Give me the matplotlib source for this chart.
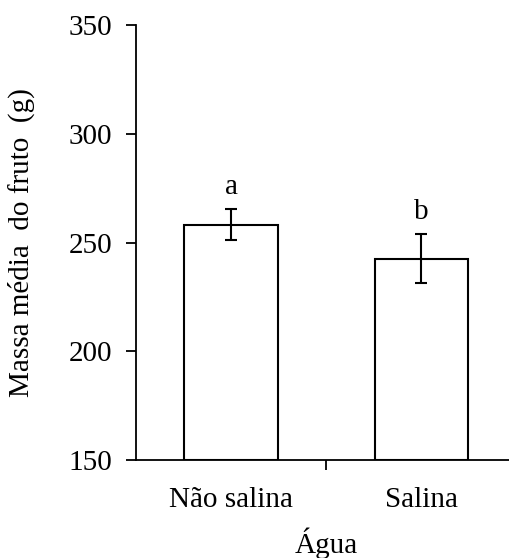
import matplotlib
matplotlib.use('Agg')
import matplotlib.pyplot as plt

# data
categorias = ['Não salina', 'Salina']
massa = [258.2, 242.5]
erro = [7.2, 11.3]
letras = ['a', 'b']

plt.rcParams['font.family'] = ['Liberation Serif', 'DejaVu Serif']
fs = 21

fig = plt.figure(figsize=(5.09, 5.58), dpi=100)
ax = fig.add_axes([0.267, 0.1756, 0.733, 0.7796])

x = range(len(categorias))
ax.bar(x, [m - 150 for m in massa], bottom=150, width=0.49,
       color='white', edgecolor='black', linewidth=1.5,
       yerr=erro, capsize=4.5,
       error_kw=dict(elinewidth=1.5, capthick=1.5, ecolor='black'))

for i in x:
    ax.text(i, massa[i] + erro[i] + 7, letras[i], ha='center', va='baseline', fontsize=fs)

ax.set_ylim(150, 350)
ax.set_yticks([150, 200, 250, 300, 350])
ax.set_xlim(-0.5, 1.46)

# category separator tick
ax.set_xticks([0.5])
ax.set_xticklabels([''])
for i in x:
    ax.text(i, -0.092, categorias[i], transform=ax.get_xaxis_transform(),
            ha='center', va='center', fontsize=fs)
ax.text(0.5, -0.192, 'Água', transform=ax.get_xaxis_transform(),
        ha='center', va='center', fontsize=fs)

ax.spines['top'].set_visible(False)
ax.spines['right'].set_visible(False)
ax.spines['left'].set_linewidth(1.3)
ax.spines['bottom'].set_linewidth(1.3)
ax.tick_params(axis='both', direction='out', length=7, width=1.3, labelsize=fs)
ax.tick_params(axis='y', pad=10)

ax.set_ylabel('Massa média  do fruto  (g)', fontsize=fs)
ax.yaxis.set_label_coords(-0.27, 0.5)

fig.savefig('out.png', dpi=100)
